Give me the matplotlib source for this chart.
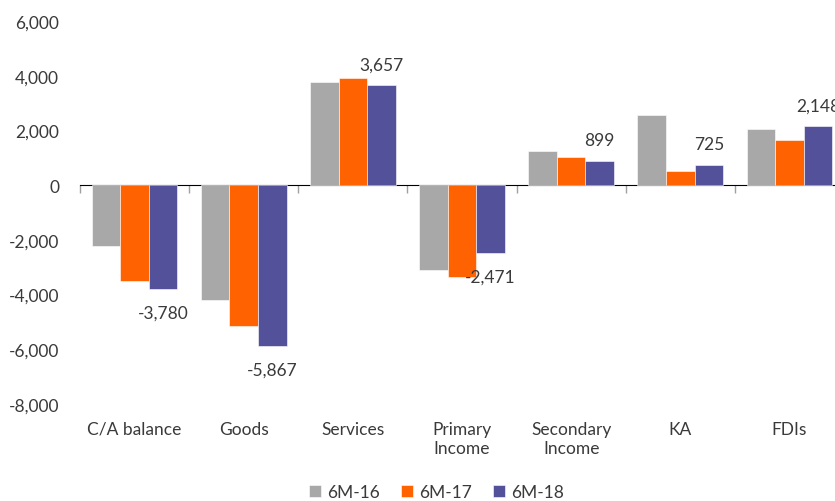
import numpy as np
import matplotlib
matplotlib.use('Agg')
import matplotlib.pyplot as plt

# Balance of payments components, EUR mn
categories = ['C/A balance', 'Goods', 'Services', 'Primary\nIncome',
              'Secondary\nIncome', 'KA', 'FDIs']
series_names = ['6M-16', '6M-17', '6M-18']
vals_6m16 = [-2230, -4205, 3780, -3108, 1243, 2560, 2048]
vals_6m17 = [-3510, -5155, 3900, -3364, 1024, 512, 1645]
vals_6m18 = [-3780, -5867, 3657, -2471, 899, 725, 2148]
y_ticks = [-8000, -6000, -4000, -2000, 0, 2000, 4000, 6000]

colors = ['#A8A8A8', '#FF6200', '#525199']
text_color = '#3a3a3a'

plt.rcParams['font.family'] = ['Lato', 'DejaVu Sans']
plt.rcParams['font.size'] = 12.5

fig = plt.figure(figsize=(8.35, 5.02), dpi=100)
ax = fig.add_axes([80 / 835, 97 / 502, 764 / 835, 383 / 502])

x = np.arange(len(categories))
width = 0.262
all_series = [vals_6m16, vals_6m17, vals_6m18]
for i, (vals, name) in enumerate(zip(all_series, series_names)):
    ax.bar(x + (i - 1) * width, vals, width, color=colors[i], label=name,
           edgecolor='white', linewidth=0.4)

# data labels for the latest period
for xi, v in zip(x, vals_6m18):
    off = 15 if v > 0 else -17
    ax.annotate(f'{v:,}', (xi + width, v), xytext=(0, off),
                textcoords='offset points', ha='center', va='center',
                color=text_color, annotation_clip=False)

ax.set_xlim(-0.5, len(categories) - 0.5)
ax.set_ylim(-8000, 6000)
ax.set_yticks(y_ticks)
ax.set_yticklabels([f'{t:,}' for t in y_ticks])
ax.set_xticks(x)
ax.set_xticklabels(categories, linespacing=1.25)
ax.tick_params(axis='both', length=0, colors=text_color)
ax.tick_params(axis='y', pad=15)
ax.tick_params(axis='x', pad=12)
for s in ax.spines.values():
    s.set_visible(False)

# zero line with category boundary ticks
zero_pos = (0 - y_ticks[0]) / (y_ticks[-1] - y_ticks[0])
sec = ax.secondary_xaxis(zero_pos)
sec.set_xticks(np.arange(len(categories) + 1) - 0.5)
sec.set_xticklabels([])
sec.tick_params(axis='x', direction='out', length=6, width=1, color='#a0a0a0')
sec.spines['bottom'].set_color('#a0a0a0')
sec.spines['bottom'].set_linewidth(1)
sec.xaxis.set_ticks_position('bottom')

fig.legend(loc='lower center', bbox_to_anchor=(0.523, -0.03), ncol=3,
           frameon=False, handlelength=0.7, handleheight=0.7,
           handletextpad=0.35, columnspacing=1.2, labelcolor=text_color)

fig.savefig('out.png', dpi=100)
